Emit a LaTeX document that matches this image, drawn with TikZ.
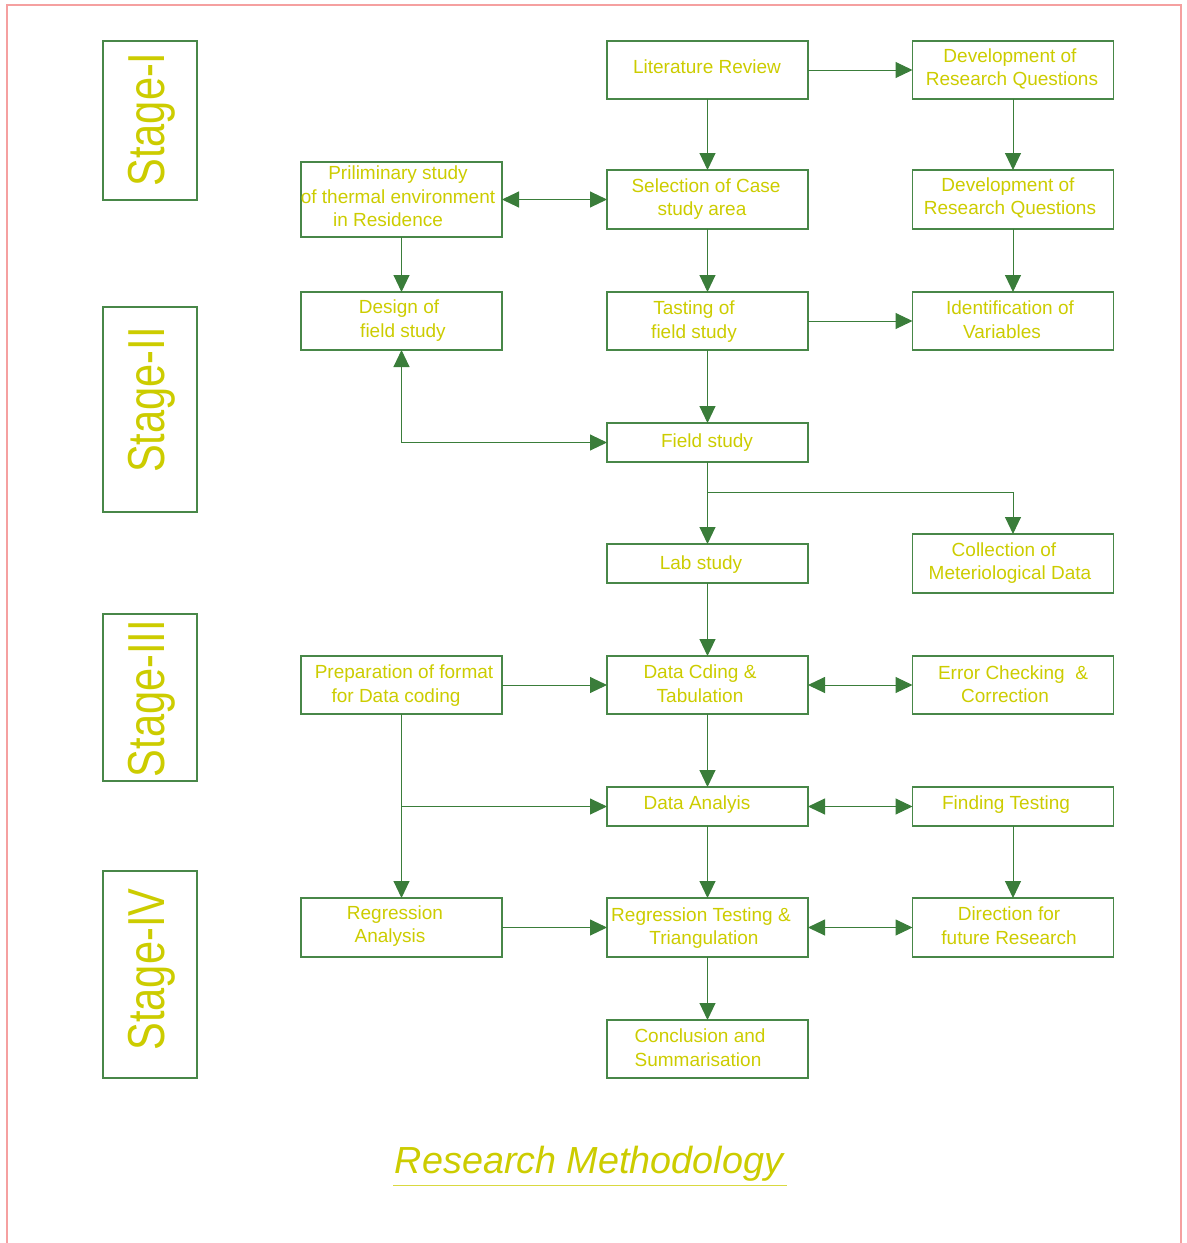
\documentclass[tikz,border=0pt]{standalone}
\usepackage{fontspec}
\setmainfont{Liberation Sans}
\newfontfamily\stagefont[FakeStretch=0.8]{Liberation Sans}
\usetikzlibrary{arrows.meta}
\definecolor{lnc}{RGB}{58,125,58}
\definecolor{bxc}{RGB}{72,135,72}
\definecolor{txc}{RGB}{204,204,0}
\definecolor{pnk}{RGB}{245,160,160}
\begin{document}
\begin{tikzpicture}[x=0.75pt,y=-0.75pt,
  box/.style={draw=bxc,line width=0.8pt,minimum width=150.75pt,inner sep=0pt,outer sep=0pt},
  stbox/.style={draw=bxc,line width=0.8pt,minimum width=70.5pt,inner sep=0pt,outer sep=0pt},
  hA/.style={minimum height=43.5pt},
  hB/.style={minimum height=44.25pt},
  hC/.style={minimum height=29.25pt},
  hD/.style={minimum height=56.25pt},
  tx/.style={text=txc,font=\fontsize{14.25pt}{17pt}\selectfont,anchor=base,inner sep=0pt},
  stg/.style={text=txc,font=\stagefont\fontsize{39pt}{44pt}\selectfont,rotate=90,anchor=base,inner sep=0pt},
  conn/.style={draw=lnc,line width=0.75pt},
  arr/.style={conn,-{Triangle[length=12.75pt,width=12pt]}},
  darr/.style={conn,{Triangle[length=12.75pt,width=12pt]}-{Triangle[length=12.75pt,width=12pt]}}]
\useasboundingbox (0,0) rectangle (1186,1243);
% page border
\draw[pnk,line width=0.8pt] (7,1243) -- (7,5) -- (1181,5) -- (1181,1243);

% stage boxes
\node[stbox,minimum height=119.25pt] (st1) at (150,120.5) {};
\node[stbox,minimum height=153.75pt] (st2) at (150,409.5) {};
\node[stbox,minimum height=125.25pt] (st3) at (150,697.5) {};
\node[stbox,minimum height=155.25pt] (st4) at (150,974.5) {};
\node[stg] (st1t) at (164,119.5) {Stage-I};
\node[stg] (st2t) at (164,400) {Stage-II};
\node[stg] (st3t) at (164,698.5) {Stage-III};
\node[stg] (st4t) at (164,969.5) {Stage-IV};

% boxes
\node[box,hA] (lit) at (707.5,70) {};
\node[box,hA] (dq1) at (1013,70) {};
\node[box,hD] (pre) at (401.5,199.5) {};
\node[box,hB] (sel) at (707.5,199.5) {};
\node[box,hB] (dq2) at (1013,199.5) {};
\node[box,hA] (des) at (401.5,321) {};
\node[box,hA] (tas) at (707.5,321) {};
\node[box,hA] (ide) at (1013,321) {};
\node[box,hC] (fie) at (707.5,442.5) {};
\node[box,hC] (lab) at (707.5,563.5) {};
\node[box,hB] (col) at (1013,563.5) {};
\node[box,hA] (prp) at (401.5,685) {};
\node[box,hA] (dco) at (707.5,685) {};
\node[box,hA] (err) at (1013,685) {};
\node[box,hC] (ana) at (707.5,806.5) {};
\node[box,hC] (fin) at (1013,806.5) {};
\node[box,hB] (rga) at (401.5,927.5) {};
\node[box,hB] (rgt) at (707.5,927.5) {};
\node[box,hB] (dir) at (1013,927.5) {};
\node[box,hA] (con) at (707.5,1049) {};

% texts
\node[tx] (t1) at (707,73) {Literature Review};
\node[tx] (t2a) at (1010,62) {Development of};
\node[tx] (t2b) at (1012,85) {Research Questions};
\node[tx] (t3a) at (398,179) {Priliminary study};
\node[tx] (t3b) at (398,203) {of thermal environment};
\node[tx] (t3c) at (388,226) {in Residence};
\node[tx] (t4a) at (706,192) {Selection of Case};
\node[tx] (t4b) at (702,215) {study area};
\node[tx] (t5a) at (1008,191) {Development of};
\node[tx] (t5b) at (1010,214) {Research Questions};
\node[tx] (t6a) at (399,313) {Design of};
\node[tx] (t6b) at (403,337) {field study};
\node[tx] (t7a) at (694,314) {Tasting of};
\node[tx] (t7b) at (694,338) {field study};
\node[tx] (t8a) at (1010,314) {Identification of};
\node[tx] (t8b) at (1002,338) {Variables};
\node[tx] (t9) at (707,447) {Field study};
\node[tx] (t10) at (701,569) {Lab study};
\node[tx] (t11a) at (1004,556) {Collection of};
\node[tx] (t11b) at (1010,579) {Meteriological Data};
\node[tx] (t12a) at (404,678) {Preparation of format};
\node[tx] (t12b) at (396,702) {for Data coding};
\node[tx] (t13a) at (700,678) {Data Cding \&};
\node[tx] (t13b) at (700,702) {Tabulation};
\node[tx] (t14a) at (1013,679) {Error Checking\ \ \&};
\node[tx] (t14b) at (1005,702) {Correction};
\node[tx] (t15) at (697,809) {Data Analyis};
\node[tx] (t16) at (1006,809) {Finding Testing};
\node[tx] (t17a) at (395,919) {Regression};
\node[tx] (t17b) at (390,942) {Analysis};
\node[tx] (t18a) at (701,921) {Regression Testing \&};
\node[tx] (t18b) at (704,944) {Triangulation};
\node[tx] (t19a) at (1009,920) {Direction for};
\node[tx] (t19b) at (1009,944) {future Research};
\node[tx] (t20a) at (700,1042) {Conclusion and};
\node[tx] (t20b) at (698,1066) {Summarisation};

% connectors
\draw[arr] (lit.east) -- (dq1.west);
\draw[arr] (lit.south) -- (sel.north);
\draw[arr] (dq1.south) -- (dq2.north);
\draw[darr] (pre.east) -- (sel.west);
\draw[arr] (sel.south) -- (tas.north);
\draw[arr] (dq2.south) -- (ide.north);
\draw[arr] (pre.south) -- (des.north);
\draw[arr] (tas.east) -- (ide.west);
\draw[arr] (tas.south) -- (fie.north);
\draw[darr] (des.south) |- (fie.west);
\draw[arr] (fie.south) -- (lab.north);
\coordinate (j1) at (707.5,492);
\draw[arr] (j1) -| (col.north);
\draw[arr] (lab.south) -- (dco.north);
\draw[arr] (prp.east) -- (dco.west);
\draw[darr] (dco.east) -- (err.west);
\draw[arr] (dco.south) -- (ana.north);
\draw[arr] (prp.south) -- (rga.north);
\coordinate (j2) at (prp.south |- ana.west);
\draw[arr] (j2) -- (ana.west);
\draw[darr] (ana.east) -- (fin.west);
\draw[arr] (ana.south) -- (rgt.north);
\draw[arr] (fin.south) -- (dir.north);
\draw[arr] (rga.east) -- (rgt.west);
\draw[darr] (rgt.east) -- (dir.west);
\draw[arr] (rgt.south) -- (con.north);

% title
\node[text=txc,font=\itshape\fontsize{28.3pt}{32pt}\selectfont,anchor=base,inner sep=0pt] (title) at (589,1173) {Research Methodology};
\draw[txc!75,line width=0.75pt] (393,1185.5) -- (787,1185.5);
\end{tikzpicture}
\end{document}
